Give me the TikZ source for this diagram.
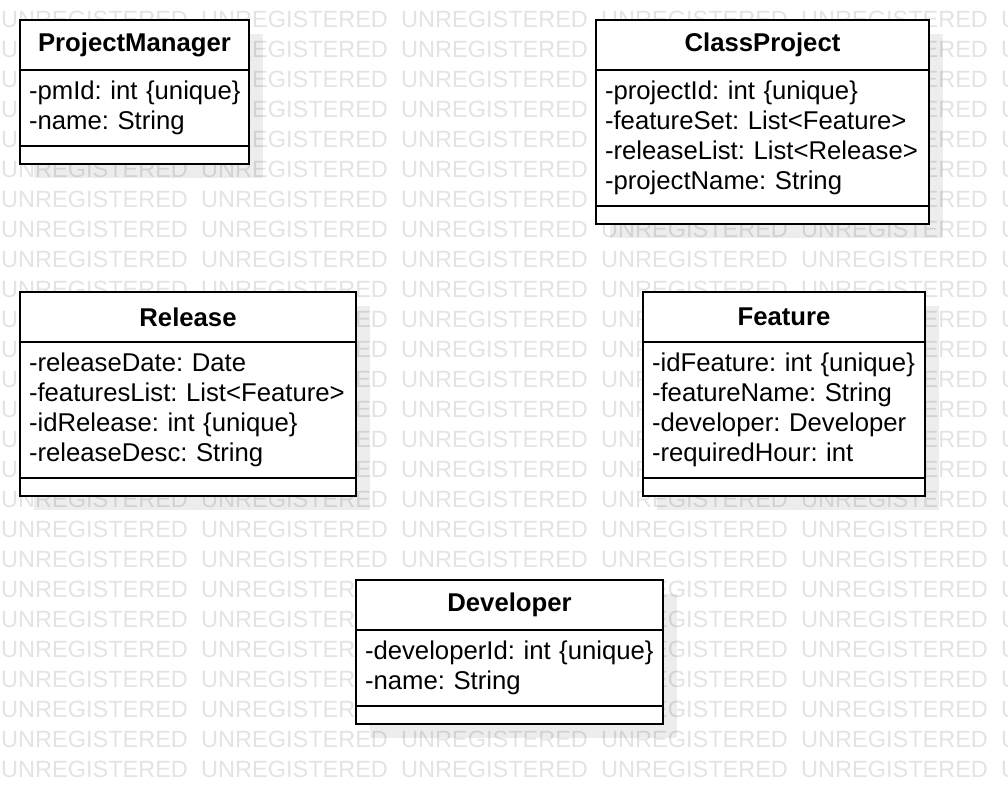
\documentclass[tikz,border=0pt]{standalone}
\usepackage{fontspec}
\setmainfont{Liberation Sans}
\usetikzlibrary{positioning,backgrounds}

\begin{document}
\begin{tikzpicture}[x=1pt, y=-1pt,
    box/.style={draw, fill=white, line width=1.5pt, outer sep=0pt, inner ysep=0pt},
    classname/.style={box, minimum height=50pt, inner xsep=0pt, font=\fontsize{25.7}{30}\selectfont\bfseries},
    classattrs/.style={box, align=left, inner xsep=9pt, font=\fontsize{25.7}{30}\selectfont\frenchspacing},
    classops/.style={box, minimum height=18pt, inner xsep=0pt},
    boxshadow/.style={fill=black!7},
    wmark/.style={anchor=base west, inner sep=0pt, text=black, text opacity=0.11, font=\fontsize{23.5}{28}\selectfont}]
  \useasboundingbox (0,0) rectangle (1008,804);

  % ProjectManager
  \node[classname, minimum width=229pt, anchor=north west] (PM) at (20,20) {ProjectManager};
  \node[classattrs, text width=211pt, minimum height=76pt] (PMa) [below=0pt of PM]
    {\mbox{-pmId: int \{unique\}}\\-name: String};
  \node[classops, minimum width=229pt] (PMo) [below=0pt of PMa] {};

  % ClassProject
  \node[classname, minimum width=333pt, anchor=north west] (CP) at (596,20) {ClassProject};
  \node[classattrs, text width=315pt, minimum height=136pt] (CPa) [below=0pt of CP]
    {-projectId: int \{unique\}\\-featureSet: List<Feature>\\-releaseList: List<Release>\\-projectName: String};
  \node[classops, minimum width=333pt] (CPo) [below=0pt of CPa] {};

  % Release
  \node[classname, minimum width=336pt, anchor=north west] (RL) at (20,292) {Release};
  \node[classattrs, text width=318pt, minimum height=136pt] (RLa) [below=0pt of RL]
    {-releaseDate: Date\\-featuresList: List<Feature>\\-idRelease: int \{unique\}\\-releaseDesc: String};
  \node[classops, minimum width=336pt] (RLo) [below=0pt of RLa] {};

  % Feature
  \node[classname, minimum width=282pt, anchor=north west] (FT) at (643,292) {Feature};
  \node[classattrs, text width=264pt, minimum height=136pt] (FTa) [below=0pt of FT]
    {-idFeature: int \{unique\}\\-featureName: String\\-developer: Developer\\-requiredHour: int};
  \node[classops, minimum width=282pt] (FTo) [below=0pt of FTa] {};

  % Developer
  \node[classname, minimum width=307pt, anchor=north west] (DV) at (356,580) {Developer};
  \node[classattrs, text width=289pt, minimum height=76pt] (DVa) [below=0pt of DV]
    {-developerId: int \{unique\}\\-name: String};
  \node[classops, minimum width=307pt] (DVo) [below=0pt of DVa] {};

  \begin{scope}[on background layer]
    \foreach \cls/\last in {PM/PMo, CP/CPo, RL/RLo, FT/FTo, DV/DVo}
      \fill[boxshadow] ([shift={(14,14)}]\cls.north west) rectangle ([shift={(14,14)}]\last.south east);
    % watermark
    \foreach \r in {0,...,25}
      \foreach \c in {0,...,5}
        \node[wmark] (wm-\r-\c) at (1+200*\c, 27+30*\r) {UNREGISTERED};
  \end{scope}
\end{tikzpicture}
\end{document}
